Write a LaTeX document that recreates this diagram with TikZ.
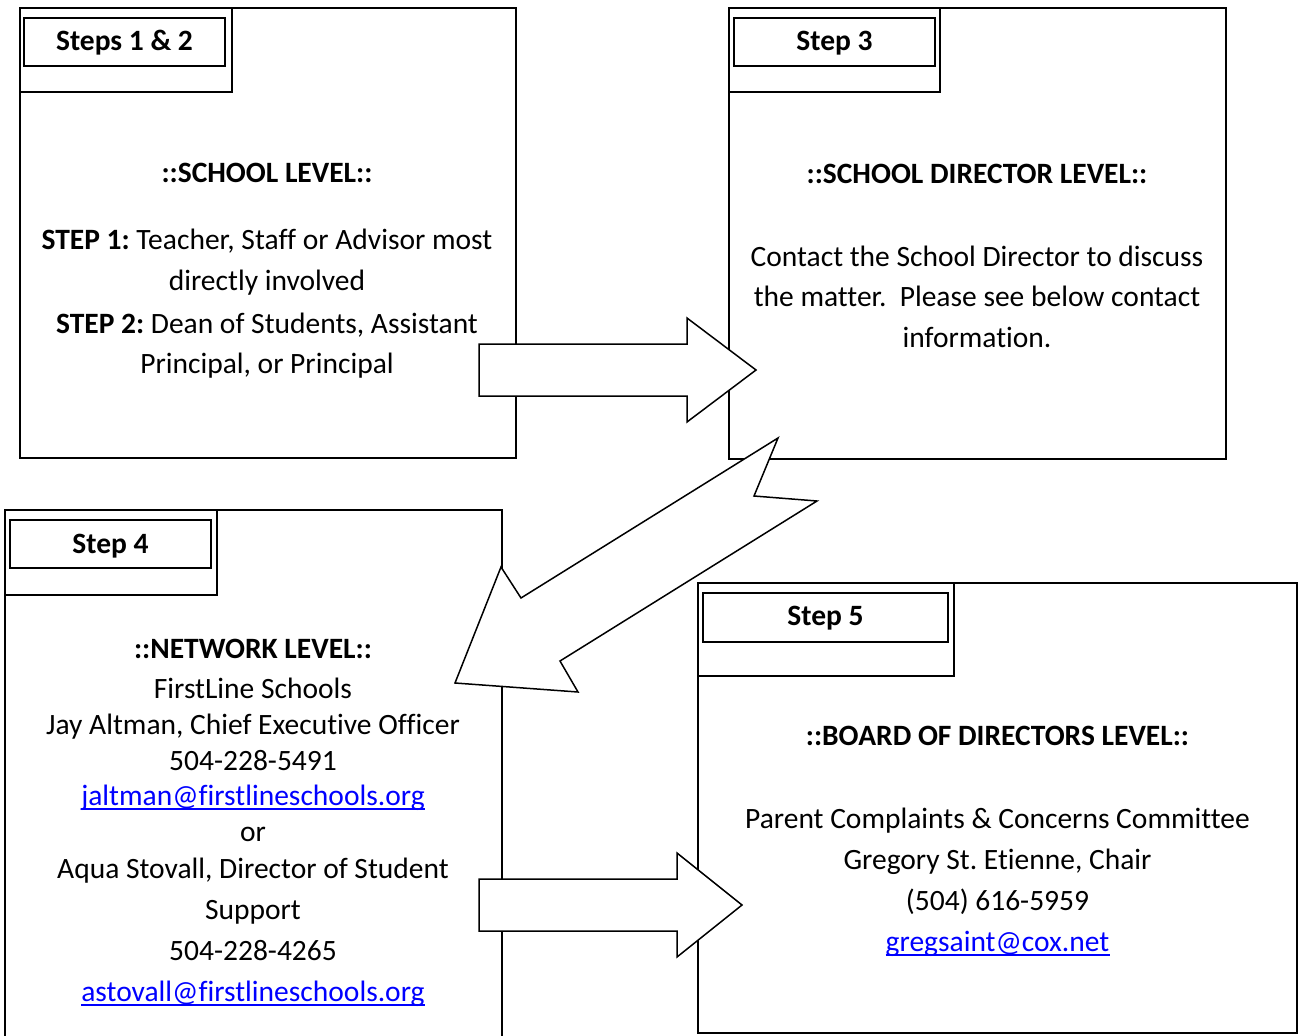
\documentclass[tikz,border=0pt]{standalone}
\usepackage{fontspec}
\setmainfont{Carlito}[Ligatures={NoCommon}]
\definecolor{linkblue}{RGB}{0,0,255}
\frenchspacing
\begin{document}
\begin{tikzpicture}[x=1pt,y=-1pt,
  box/.style={draw, line width=1.5pt, anchor=north west, inner sep=0pt, outer sep=0pt},
  lab/.style={draw, line width=2.2pt, anchor=north west, inner sep=0pt, outer sep=0pt},
  txt/.style={anchor=base, inner sep=0pt, font=\fontsize{29.5}{35}\selectfont},
  hd/.style={txt, font=\fontsize{29.5}{35}\selectfont\bfseries},
  link/.style={txt, text=linkblue},
  uline/.style={draw=linkblue, line width=1.4pt},
  blockarrow/.style={draw, fill=white, line width=1.5pt, line join=miter}]
\useasboundingbox (0,0) rectangle (1299,1036);
\clip (0,0) rectangle (1299,1036);
\fill[white] (0,0) rectangle (1299,1036);

% ---------- Box 1 ----------
\node[box, minimum width=496, minimum height=450] (B1) at (20,8) {};
\node[box, minimum width=212, minimum height=84] (T1) at (20,8) {};
\node[lab, minimum width=201, minimum height=48] (L1) at (24,18) {};
\node[hd] (L1t) at (124.5,50) {Steps 1 \& 2};
\node[hd] (B1a) at (267,182) {::SCHOOL LEVEL::};
\node[txt] (B1b) at (267,249) {\textbf{STEP 1:} Teacher, Staff or Advisor most};
\node[txt] (B1c) at (267,290) {directly involved};
\node[txt] (B1d) at (267,333) {\textbf{STEP 2:} Dean of Students, Assistant};
\node[txt] (B1e) at (267,373) {Principal, or Principal};

% ---------- Box 3 ----------
\node[box, minimum width=497, minimum height=451] (B3) at (729,8) {};
\node[box, minimum width=211, minimum height=84] (T3) at (729,8) {};
\node[lab, minimum width=201, minimum height=48] (L3) at (734,18) {};
\node[hd] (L3t) at (834.5,50) {Step 3};
\node[hd] (B3a) at (977,183) {::SCHOOL DIRECTOR LEVEL::};
\node[txt] (B3b) at (977,266) {Contact the School Director to discuss};
\node[txt] (B3c) at (977,306) {the matter.\ \ Please see below contact};
\node[txt] (B3d) at (977,347) {information.};

% ---------- Box 4 ----------
\node[box, minimum width=497, minimum height=540] (B4) at (5,510) {};
\node[box, minimum width=212, minimum height=85] (T4) at (5,510) {};
\node[lab, minimum width=201, minimum height=48] (L4) at (10,520) {};
\node[hd] (L4t) at (110.5,553) {Step 4};
\node[hd] (B4a) at (253,658) {::NETWORK LEVEL::};
\node[txt] (B4b) at (253,698) {FirstLine Schools};
\node[txt] (B4c) at (253,734) {Jay Altman, Chief Executive Officer};
\node[txt] (B4d) at (253,770) {504-228-5491};
\node[link] (B4e) at (253,805) {jaltman@firstlineschools.org};
\draw[uline] ([yshift=-4pt]B4e.base west) -- ([yshift=-4pt]B4e.base east);
\node[txt] (B4f) at (253,841) {or};
\node[txt] (B4g) at (253,878) {Aqua Stovall, Director of Student};
\node[txt] (B4h) at (253,919) {Support};
\node[txt] (B4i) at (253,960) {504-228-4265};
\node[link] (B4j) at (253,1001) {astovall@firstlineschools.org};
\draw[uline] ([yshift=-4pt]B4j.base west) -- ([yshift=-4pt]B4j.base east);

% ---------- Box 5 ----------
\node[box, minimum width=599, minimum height=450] (B5) at (698,583) {};
\node[box, minimum width=256, minimum height=93] (T5) at (698,583) {};
\node[lab, minimum width=245, minimum height=49] (L5) at (703,593) {};
\node[hd] (L5t) at (825.5,625) {Step 5};
\node[hd] (B5a) at (997.5,745) {::BOARD OF DIRECTORS LEVEL::};
\node[txt] (B5b) at (997.5,828) {Parent Complaints \& Concerns Committee};
\node[txt] (B5c) at (997.5,869) {Gregory St. Etienne, Chair};
\node[txt] (B5d) at (997.5,910) {(504) 616-5959};
\node[link] (B5e) at (997.5,951) {gregsaint@cox.net};
\draw[uline] ([yshift=-4pt]B5e.base west) -- ([yshift=-4pt]B5e.base east);

% ---------- Arrows ----------
\draw[blockarrow] (479,344) -- (687,344) -- (687,318) -- (756,370)
  -- (687,422) -- (687,396) -- (479,396) -- cycle;
\draw[blockarrow] (778,438) -- (754,496) -- (817,501) -- (560,661)
  -- (578,692) -- (455,683) -- (501,567) -- (521,598) -- cycle;
\draw[blockarrow] (479,879) -- (677,879) -- (677,853) -- (742,905)
  -- (677,957) -- (677,931) -- (479,931) -- cycle;
\end{tikzpicture}
\end{document}
